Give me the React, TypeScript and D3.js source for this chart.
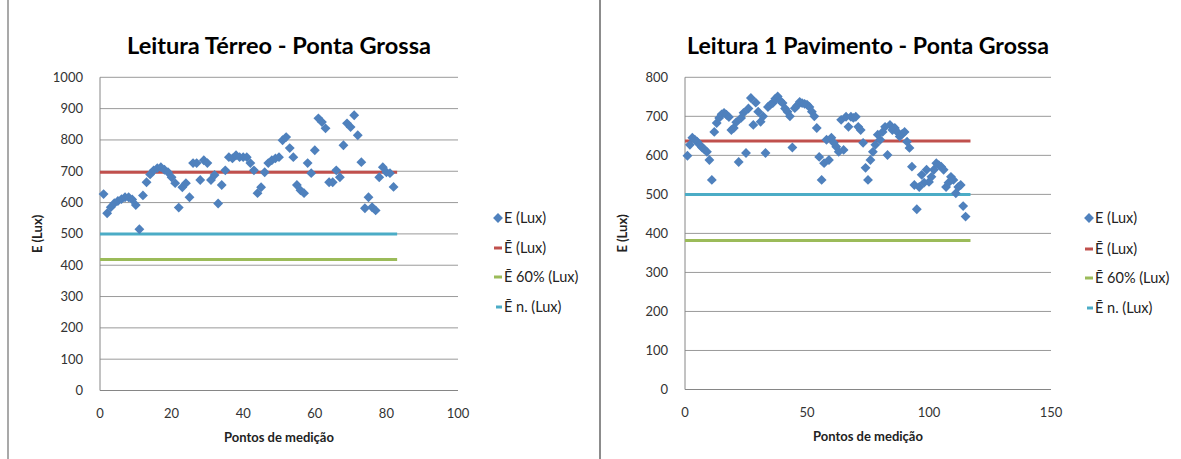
import React from 'react';
import * as d3 from 'd3';

// Leitura Térreo: E (Lux) per measuring point (x = 1..82)
const terreoE = [
  627, 566, 585, 598, 605, 611, 617, 617, 610, 592,
  515, 623, 665, 690, 703, 710, 713, 705, 697, 681,
  662, 584, 649, 662, 617, 726, 726, 672, 735, 726,
  672, 688, 597, 656, 703, 745, 741, 751, 745, 745,
  745, 726, 703, 630, 649, 697, 726, 735, 741, 745,
  799, 809, 774, 745, 656, 639, 630, 726, 694, 767,
  869, 857, 837, 665, 665, 703, 681, 783, 853, 841,
  879, 815, 729, 582, 617, 585, 575, 681, 713, 697,
  694, 650,
];
const terreoMean = 697;
const terreoP60 = 418;
const terreoNorm = 500;
const terreoLineX = [0, 83];
const terreoXTicks = [0, 20, 40, 60, 80, 100];
const terreoYTicks = [0, 100, 200, 300, 400, 500, 600, 700, 800, 900, 1000];

// Leitura 1 Pavimento: E (Lux) per measuring point (x = 1..115)
const pavE = [
  599, 627, 645, 640, 635, 627, 620, 615, 609, 588,
  537, 660, 683, 696, 705, 709, 704, 698, 665, 670,
  685, 583, 696, 709, 606, 720, 747, 678, 735, 712,
  686, 700, 606, 724, 730, 734, 745, 751, 740, 734,
  720, 712, 700, 620, 721, 728, 737, 734, 732, 730,
  724, 712, 700, 670, 596, 537, 580, 640, 588, 645,
  632, 622, 609, 691, 614, 699, 673, 699, 696, 699,
  673, 665, 632, 568, 537, 588, 609, 627, 653, 640,
  660, 673, 601, 678, 665, 670, 660, 648, 655, 660,
  635, 619, 571, 524, 462, 519, 550, 530, 563, 532,
  545, 563, 580, 575, 571, 563, 519, 530, 545, 537,
  503, 519, 524, 470, 443,
];
const pavMean = 637;
const pavP60 = 382;
const pavNorm = 500;
const pavLineX = [0, 117];
const pavXTicks = [0, 50, 100, 150];
const pavYTicks = [0, 100, 200, 300, 400, 500, 600, 700, 800];

const legendLabels = ['E (Lux)', 'Ē (Lux)', 'Ē 60% (Lux)', 'Ē n. (Lux)'];

const BLUE = '#4f81bd';
const RED = '#c0504d';
const GREEN = '#9bbb59';
const CYAN = '#4bacc6';
const FONT = 'Lato, "Open Sans", sans-serif';

interface PanelProps {
  title: string;
  titleWidth: number;
  values: number[];
  mean: number;
  p60: number;
  norm: number;
  lineX: number[];
  xTicks: number[];
  yTicks: number[];
  px: [number, number];
  py: [number, number];
  legendX: number;
  legendY: number[];
}

function Panel(p: PanelProps) {
  const x = d3.scaleLinear().domain([p.xTicks[0], p.xTicks[p.xTicks.length - 1]]).range(p.px);
  const y = d3.scaleLinear().domain([p.yTicks[0], p.yTicks[p.yTicks.length - 1]]).range(p.py);
  const cx = (p.px[0] + p.px[1]) / 2;
  const cy = (p.py[0] + p.py[1]) / 2;
  const diamond = d3.symbol(d3.symbolDiamond2, 62)();
  const hLine = (v: number, color: string) => (
    <line x1={x(p.lineX[0])} x2={x(p.lineX[1])} y1={y(v)} y2={y(v)}
      stroke={color} strokeWidth={3} />
  );
  const legendColors = [RED, GREEN, CYAN];

  return (
    <g fontFamily={FONT}>
      <text x={cx} y={54} textAnchor="middle" fontSize={23} fontWeight="bold"
        fill="#000" textLength={p.titleWidth} lengthAdjust="spacingAndGlyphs">{p.title}</text>

      {p.yTicks.map(t => (
        <g key={t}>
          {t > 0 && (
            <line x1={p.px[0]} x2={p.px[1]} y1={y(t)} y2={y(t)} stroke="#9a9a9a" strokeWidth={1} />
          )}
          <text x={p.px[0] - 17} y={y(t) + 4.5} textAnchor="end" fontSize={13} fill="#333">{t}</text>
        </g>
      ))}
      {p.xTicks.map(t => (
        <text key={t} x={x(t)} y={p.py[0] + 27} textAnchor="middle" fontSize={13} fill="#333">{t}</text>
      ))}
      <line x1={p.px[0]} x2={p.px[0]} y1={p.py[1]} y2={p.py[0]} stroke="#868686" />
      <line x1={p.px[0]} x2={p.px[1]} y1={p.py[0]} y2={p.py[0]} stroke="#868686" />

      <text x={cx} y={p.py[0] + 51} textAnchor="middle" fontSize={13} fontWeight="bold" fill="#222">
        Pontos de medição
      </text>
      <text transform={`translate(${p.px[0] - 58},${cy}) rotate(-90)`} textAnchor="middle"
        fontSize={13} fontWeight="bold" fill="#222">E (Lux)</text>

      {hLine(p.mean, RED)}
      {hLine(p.p60, GREEN)}
      {hLine(p.norm, CYAN)}

      {p.values.map((v, i) => (
        <path key={i} d={diamond} transform={`translate(${x(i + 1)},${y(v)})`} fill={BLUE} />
      ))}

      <path d={diamond} transform={`translate(${p.legendX},${p.legendY[0]})`} fill={BLUE} />
      {legendColors.map((c, i) => (
        <line key={c} x1={p.legendX - (i === 2 ? 2 : 4)} x2={p.legendX + 4}
          y1={p.legendY[i + 1]} y2={p.legendY[i + 1]} stroke={c} strokeWidth={3} />
      ))}
      {legendLabels.map((l, i) => (
        <text key={l} x={p.legendX + 6} y={p.legendY[i] + 5} fontSize={14.5} fill="#222">{l}</text>
      ))}
    </g>
  );
}

export default function App() {
  return (
    <svg width={1181} height={459} style={{ position: 'absolute', left: 0, top: 0, background: '#fff' }}>
      <rect x={0} y={0} width={1181} height={459} fill="#fff" />
      <line x1={8} x2={8} y1={0} y2={459} stroke="#8c8c8c" strokeWidth={1.5} />
      <line x1={600} x2={600} y1={0} y2={459} stroke="#8c8c8c" strokeWidth={2} />
      <Panel title="Leitura Térreo - Ponta Grossa" titleWidth={304}
        values={terreoE} mean={terreoMean} p60={terreoP60} norm={terreoNorm}
        lineX={terreoLineX} xTicks={terreoXTicks} yTicks={terreoYTicks}
        px={[100, 458]} py={[390.5, 77.3]} legendX={498} legendY={[218, 248, 277, 307]} />
      <Panel title="Leitura 1 Pavimento - Ponta Grossa" titleWidth={362}
        values={pavE} mean={pavMean} p60={pavP60} norm={pavNorm}
        lineX={pavLineX} xTicks={pavXTicks} yTicks={pavYTicks}
        px={[685, 1051]} py={[389.5, 77.3]} legendX={1089} legendY={[218, 249, 278, 308]} />
    </svg>
  );
}
